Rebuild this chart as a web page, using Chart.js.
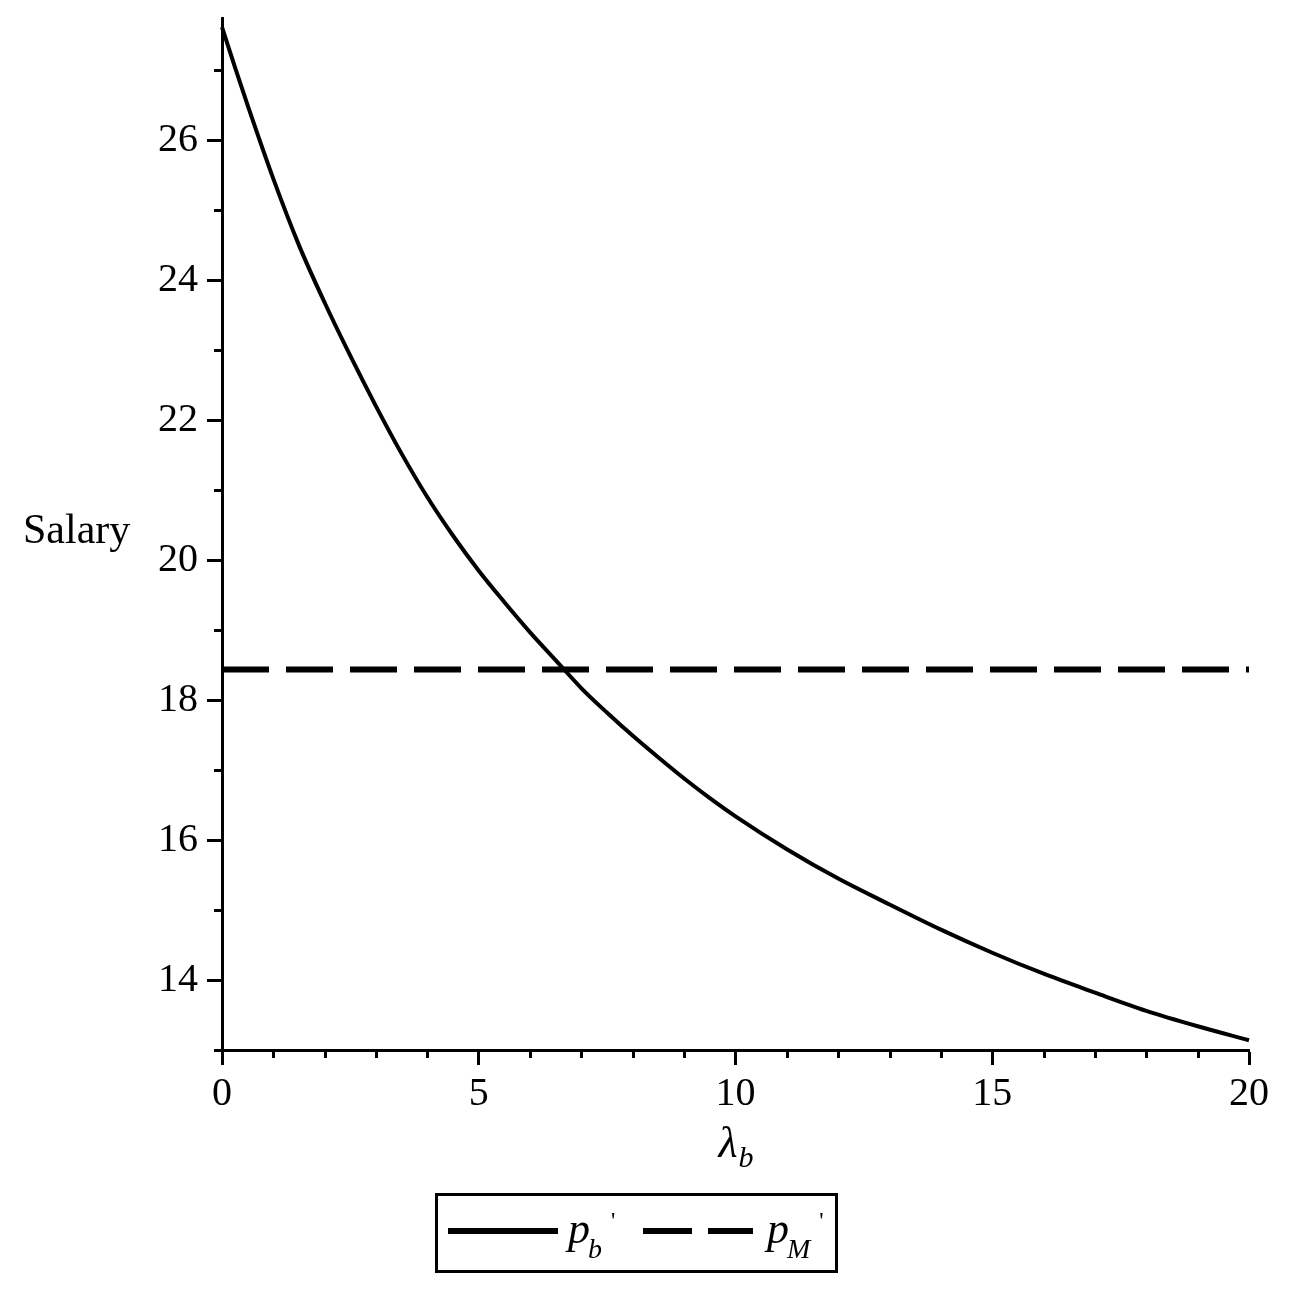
<!DOCTYPE html>
<html>
<head>
<meta charset="utf-8">
<script src="https://cdn.jsdelivr.net/npm/chart.js@4.4.0/dist/chart.umd.min.js"></script>
<style>
html,body{margin:0;padding:0;background:#fff;}
#wrap{position:relative;width:1292px;height:1297px;}
</style>
</head>
<body>
<div id="wrap"><canvas id="c" width="1292" height="1297"></canvas></div>
<script>
// ---- data ----
const lambdaValues = [0,0.25,0.5,1,1.5,2,2.5,3,3.5,4,4.5,5,5.5,6,6.5,7,7.5,8,8.5,9,9.5,10,11,12,13,14,15,16,17,18,19,20];
const pbValues = [27.62,27.05,26.5,25.45,24.5,23.68,22.92,22.2,21.52,20.9,20.35,19.85,19.4,18.97,18.57,18.17,17.82,17.49,17.18,16.88,16.6,16.34,15.87,15.45,15.08,14.72,14.39,14.09,13.82,13.56,13.34,13.14];
const pmLambda = [0, 20];
const pmValues = [18.44, 18.44];
const xMajorTicks = [0,5,10,15,20];
const xMinorTicks = [1,2,3,4,6,7,8,9,11,12,13,14,16,17,18,19];
const yMajorTicks = [14,16,18,20,22,24,26];
const yMinorTicks = [13,15,17,19,21,23,25,27];
const yLabel = 'Salary';
const xLabelMain = 'λ';
const xLabelSub = 'b';
const legendItems = [
  {main:'p', sub:'b', dash:[]},
  {main:'p', sub:'M', dash:[49,16]}
];

const SERIF = '"Liberation Serif", "Times New Roman", serif';

const minorTicksPlugin = {
  id: 'minorTicks',
  afterDraw(chart) {
    const ctx = chart.ctx, xs = chart.scales.x, ys = chart.scales.y;
    const a = chart.chartArea;
    ctx.save();
    ctx.strokeStyle = '#000';
    ctx.lineWidth = 3;
    ctx.beginPath();
    xMinorTicks.forEach(v => {
      const px = Math.round(xs.getPixelForValue(v)) + 0.5;
      ctx.moveTo(px, a.bottom); ctx.lineTo(px, a.bottom + 8);
    });
    yMinorTicks.forEach(v => {
      const py = Math.round(ys.getPixelForValue(v)) + 0.5;
      ctx.moveTo(a.left - 8, py); ctx.lineTo(a.left, py);
    });
    ctx.stroke();
    ctx.restore();
  }
};

const labelsPlugin = {
  id: 'labelsLegend',
  afterDraw(chart) {
    const ctx = chart.ctx;
    const a = chart.chartArea;
    ctx.save();
    ctx.fillStyle = '#000';
    ctx.textBaseline = 'alphabetic';
    // y title
    ctx.font = '42px ' + SERIF;
    ctx.textAlign = 'left';
    ctx.fillText(yLabel, 23, 543);
    // x title
    const cx = (a.left + a.right) / 2;
    ctx.font = 'italic 44px ' + SERIF;
    const wMain = ctx.measureText(xLabelMain).width;
    ctx.font = 'italic 30px ' + SERIF;
    const wSub = ctx.measureText(xLabelSub).width;
    const x0 = cx - (wMain + wSub) / 2;
    ctx.font = 'italic 44px ' + SERIF;
    ctx.fillText(xLabelMain, x0, 1157);
    ctx.font = 'italic 30px ' + SERIF;
    ctx.fillText(xLabelSub, x0 + wMain + 1, 1167);

    // legend box
    ctx.strokeStyle = '#000';
    ctx.lineWidth = 3;
    ctx.strokeRect(436.5, 1194.5, 400, 77);
    const samples = [{x1:448,x2:558,tx:568},{x1:643,x2:753,tx:767}];
    legendItems.forEach((it, i) => {
      const s = samples[i];
      ctx.save();
      ctx.lineWidth = 6;
      ctx.lineCap = 'butt';
      ctx.setLineDash(it.dash);
      ctx.beginPath();
      ctx.moveTo(s.x1, 1231); ctx.lineTo(s.x2, 1231);
      ctx.stroke();
      ctx.restore();
      ctx.font = 'italic 44px ' + SERIF;
      ctx.fillText(it.main, s.tx, 1243);
      const wm = ctx.measureText(it.main).width;
      ctx.font = 'italic 28px ' + SERIF;
      ctx.fillText(it.sub, s.tx + wm - 2, 1258);
      const ws = ctx.measureText(it.sub).width;
      ctx.font = '24px ' + SERIF;
      ctx.fillText("'", s.tx + wm + ws + 7, 1228);
    });
    ctx.restore();
  }
};

const ctx = document.getElementById('c').getContext('2d');
new Chart(ctx, {
  type: 'scatter',
  data: {
    datasets: [
      {
        label: 'pb',
        data: lambdaValues.map((x, i) => ({x, y: pbValues[i]})),
        showLine: true,
        borderColor: '#000',
        borderWidth: 4,
        pointRadius: 0,
        cubicInterpolationMode: 'monotone',
        clip: 6
      },
      {
        label: 'pM',
        data: pmLambda.map((x, i) => ({x, y: pmValues[i]})),
        showLine: true,
        borderColor: '#000',
        borderWidth: 6,
        borderDash: [47, 17],
        borderCapStyle: 'butt',
        pointRadius: 0,
        clip: 6
      }
    ]
  },
  options: {
    responsive: false,
    animation: false,
    devicePixelRatio: 1,
    layout: { padding: { top: 18, right: 43, left: 0, bottom: 0 } },
    plugins: { legend: { display: false }, tooltip: { enabled: false }, title: { display: false } },
    scales: {
      x: {
        type: 'linear',
        min: 0, max: 20,
        afterBuildTicks: s => { s.ticks = xMajorTicks.map(v => ({value: v})); },
        afterFit: s => { s.height = 247; s.paddingLeft = 0; s.paddingRight = 0; },
        ticks: { color: '#000', font: { family: SERIF, size: 40 }, padding: 5, maxRotation: 0, autoSkip: false },
        grid: { drawOnChartArea: false, drawTicks: true, tickLength: 15, tickWidth: 3, tickColor: '#000', color: '#000' },
        border: { display: true, color: '#000', width: 3 }
      },
      y: {
        type: 'linear',
        min: 13.0, max: 27.75,
        afterBuildTicks: s => { s.ticks = yMajorTicks.map(v => ({value: v})); },
        afterFit: s => { s.width = 222; s.paddingTop = 0; s.paddingBottom = 0; },
        ticks: { color: '#000', font: { family: SERIF, size: 40 }, padding: 9, autoSkip: false },
        grid: { drawOnChartArea: false, drawTicks: true, tickLength: 15, tickWidth: 3, tickColor: '#000', color: '#000' },
        border: { display: true, color: '#000', width: 3 }
      }
    }
  },
  plugins: [minorTicksPlugin, labelsPlugin]
});
</script>
</body>
</html>
